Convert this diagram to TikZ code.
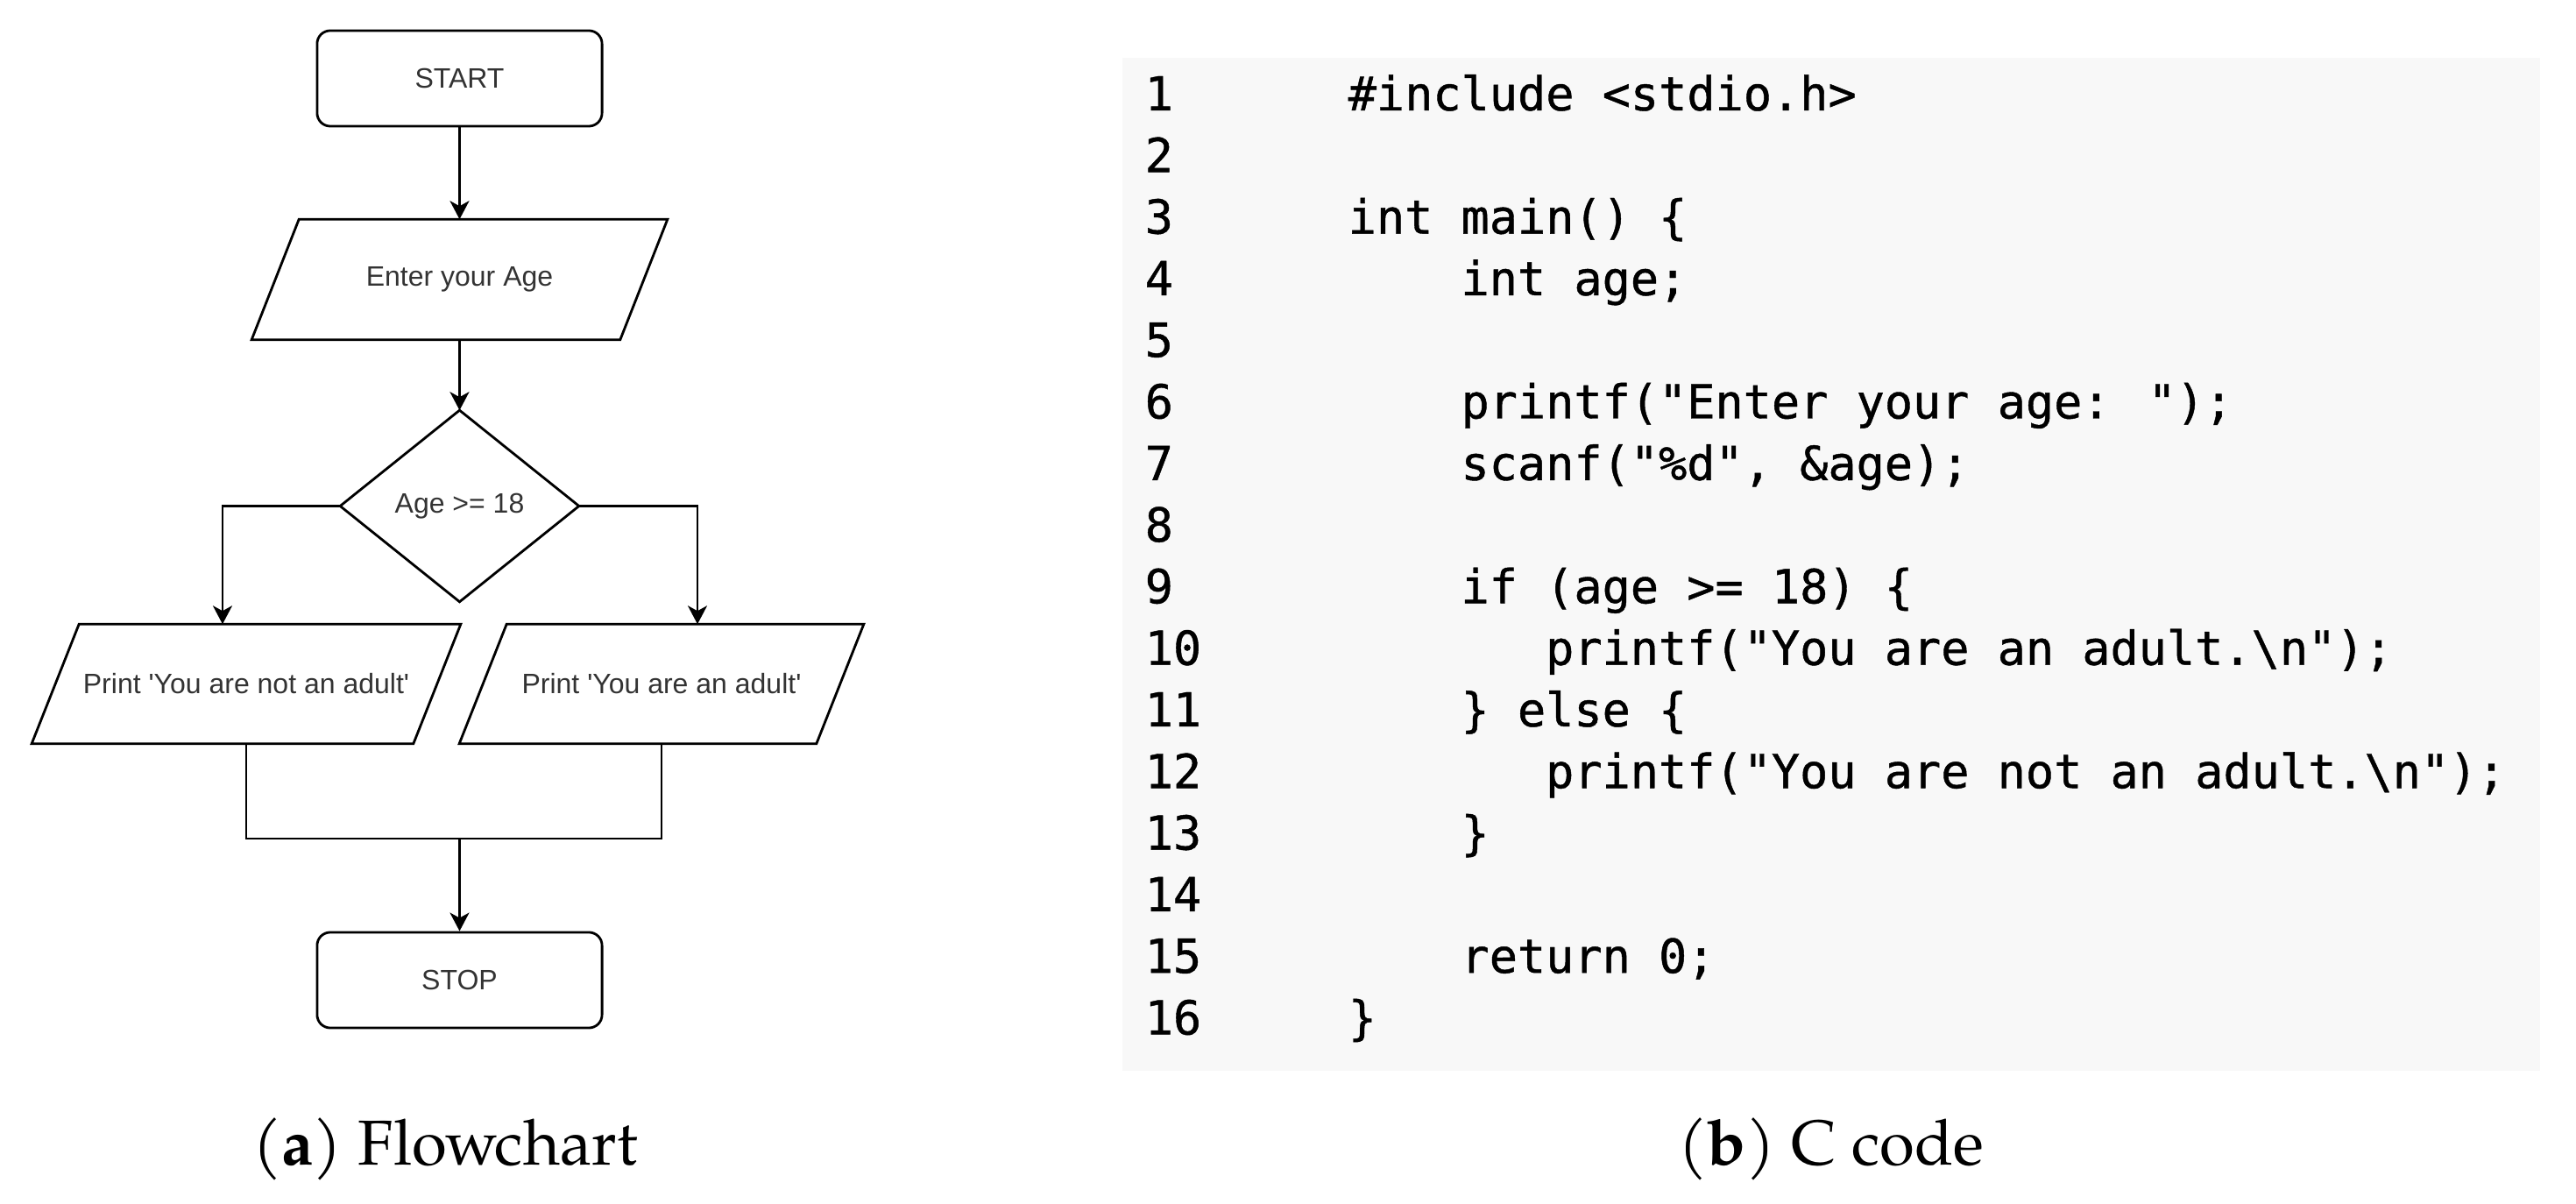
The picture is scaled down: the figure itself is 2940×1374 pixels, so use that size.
\documentclass[tikz,border=0pt]{standalone}
\usepackage{fontspec}
\usetikzlibrary{arrows.meta}
\newfontfamily\flowfont{Liberation Sans}[Ligatures=TeXOff]
\newfontfamily\codefont{DejaVu Sans Mono}[Ligatures=TeXOff, FakeBold=0.8]
\newfontfamily\capfont{texgyrepagella}[Extension=.otf, UprightFont=*-regular, BoldFont=*-bold]
\definecolor{codebg}{HTML}{F8F8F8}
\definecolor{flowtext}{HTML}{333333}
\tikzset{
  flowline/.style={draw=black, line width=0.8pt},
  arr/.style={flowline, -{Stealth[length=0.21cm, width=0.22cm, inset=0.06cm]}},
  ftext/.style={inner sep=0pt, text=flowtext, font=\flowfont\fontsize{9.1}{11}\selectfont},
  term/.style={ftext, draw=black, line width=0.8pt, rounded corners=0.15cm, minimum width=3.25cm, minimum height=1.09cm},
  ghost/.style={ftext, draw=none},
  codetext/.style={inner sep=0pt, anchor=base west, text=black, font=\codefont\fontsize{15.22}{18}\selectfont},
  captext/.style={inner sep=0pt, anchor=base, text=black, font=\capfont\fontsize{20.6}{25}\selectfont}
}
\newcommand\mycodeline[3]{%
  \node[codetext] (n#1) at (1306, {126+(#1-1)*70.3}) {#1};
  \node[codetext] (c#1) at ({1538+#2*32.2}, {126+(#1-1)*70.3}) {#3};}
\newcommand\myparallel[2]{%
  \draw[flowline] ([xshift=#2]#1.north west) -- ([xshift=#2]#1.north east)
    -- ([xshift=-#2]#1.south east) -- ([xshift=-#2]#1.south west) -- cycle;}
\begin{document}
\begin{tikzpicture}[x=0.01cm, y=-0.01cm]
\useasboundingbox (0,0) rectangle (2940,1374);
% ---------- flowchart ----------
\node[term] (start) at (524.5,89.5) {START};
\node[ghost, minimum width=4.19cm, minimum height=1.36cm] (enter) at (524.5,319) {Enter your Age};
\myparallel{enter}{0.27cm}
\node[ghost, minimum width=2.71cm, minimum height=2.17cm] (dec) at (524.5,577.5) {Age >= 18};
\draw[flowline] (dec.north) -- (dec.east) -- (dec.south) -- (dec.west) -- cycle;
\node[ghost, minimum width=4.34cm, minimum height=1.35cm] (lpara) at (281,780.5) {Print 'You are not an adult'};
\myparallel{lpara}{0.27cm}
\node[ghost, minimum width=4.06cm, minimum height=1.35cm] (rpara) at (755,780.5) {Print 'You are an adult'};
\myparallel{rpara}{0.27cm}
\node[term] (stop) at (524.5,1118.5) {STOP};
\coordinate (mj) at (524.5,957);
\draw[arr] (start.south) -- (enter.north);
\draw[arr] (enter.south) -- (dec.north);
\draw[arr] (dec.west) -| ([xshift=-0.27cm]lpara.north);
\draw[arr] (dec.east) -| ([xshift=0.41cm]rpara.north);
\draw[flowline] (lpara.south) -- (lpara.south |- mj) -- (rpara.south |- mj) -- (rpara.south);
\draw[arr] (mj) -- (stop.north);
\node[captext] (capa) at (508,1329) {(\textbf{a}) Flowchart};
% ---------- code ----------
\fill[codebg] (1281,66) rectangle (2899,1222);
\mycodeline{1}{0}{\#include <stdio.h>}
\mycodeline{2}{0}{}
\mycodeline{3}{0}{int main() \{}
\mycodeline{4}{4}{int age;}
\mycodeline{5}{0}{}
\mycodeline{6}{4}{printf("Enter your age: ");}
\mycodeline{7}{4}{scanf("\%d", \&age);}
\mycodeline{8}{0}{}
\mycodeline{9}{4}{if (age >= 18) \{}
\mycodeline{10}{7}{printf("You are an adult.\textbackslash n");}
\mycodeline{11}{4}{\} else \{}
\mycodeline{12}{7}{printf("You are not an adult.\textbackslash n");}
\mycodeline{13}{4}{\}}
\mycodeline{14}{0}{}
\mycodeline{15}{4}{return 0;}
\mycodeline{16}{0}{\}}
\node[captext] (capb) at (2090,1329) {(\textbf{b}) C code};
\end{tikzpicture}
\end{document}
